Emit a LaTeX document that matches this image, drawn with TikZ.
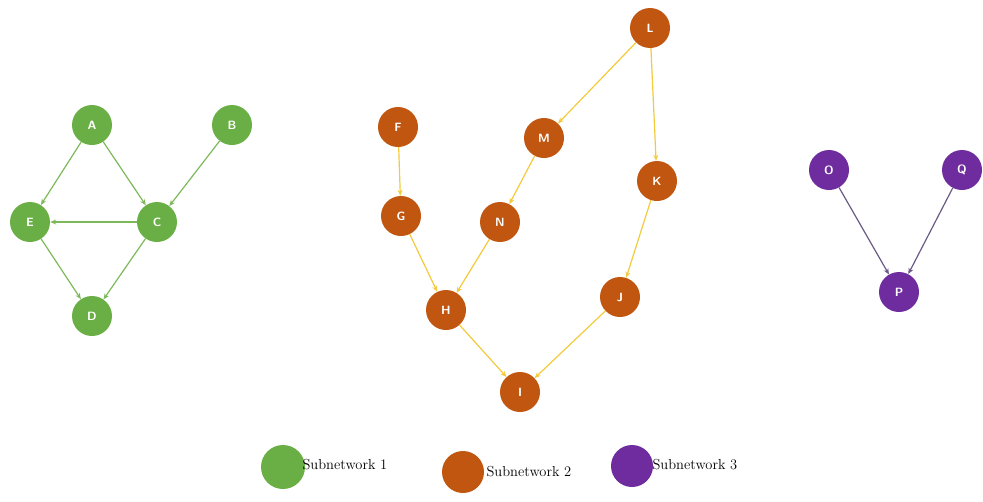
\documentclass[tikz,border=0pt]{standalone}
\usetikzlibrary{arrows.meta}
\definecolor{gnode}{HTML}{6AAF45}
\definecolor{gedge}{HTML}{7DB85A}
\definecolor{onode}{HTML}{C0560F}
\definecolor{oedge}{HTML}{F2CA3C}
\definecolor{pnode}{HTML}{6F2C9E}
\definecolor{pedge}{HTML}{6A5A84}
\begin{document}
\begin{tikzpicture}[x=1pt,y=-1pt,
  vtx/.style={circle,minimum size=40pt,inner sep=0pt,text=white,font=\sffamily\bfseries\fontsize{12}{14}\selectfont},
  gv/.style={vtx,fill=gnode},
  ov/.style={vtx,fill=onode},
  pv/.style={vtx,fill=pnode},
  ge/.style={draw=gedge,line width=1.2pt,-{Stealth[length=6pt,width=5pt]}},
  oe/.style={draw=oedge,line width=1.2pt,-{Stealth[length=6pt,width=5pt]}},
  pe/.style={draw=pedge,line width=1.2pt,-{Stealth[length=6pt,width=5pt]}},
  legtext/.style={anchor=west,font=\fontsize{14.5}{16}\selectfont}]
\useasboundingbox (0,0) rectangle (983,501);
% subnetwork 1
\node[gv] (A) at (92,125) {A};
\node[gv] (B) at (232,125) {B};
\node[gv] (C) at (157,222) {C};
\node[gv] (E) at (30,222) {E};
\node[gv] (D) at (92,316) {D};
\draw[ge] (A) -- (E);
\draw[ge] (A) -- (C);
\draw[ge] (B) -- (C);
\draw[ge] (C) -- (E);
\draw[ge] (E) -- (D);
\draw[ge] (C) -- (D);
% subnetwork 2
\node[ov] (F) at (398,127) {F};
\node[ov] (G) at (401,216) {G};
\node[ov] (N) at (500,222) {N};
\node[ov] (M) at (544,138) {M};
\node[ov] (L) at (650,28) {L};
\node[ov] (K) at (657,181) {K};
\node[ov] (J) at (620,297) {J};
\node[ov] (H) at (446,310) {H};
\node[ov] (I) at (520,392) {I};
\draw[oe] (F) -- (G);
\draw[oe] (G) -- (H);
\draw[oe] (N) -- (H);
\draw[oe] (M) -- (N);
\draw[oe] (L) -- (M);
\draw[oe] (L) -- (K);
\draw[oe] (K) -- (J);
\draw[oe] (J) -- (I);
\draw[oe] (H) -- (I);
% subnetwork 3
\node[pv] (O) at (829,170) {O};
\node[pv] (Q) at (962,170) {Q};
\node[pv] (P) at (899,292) {P};
\draw[pe] (O) -- (P);
\draw[pe] (Q) -- (P);
% legend
\node[circle,fill=gnode,minimum size=44pt,inner sep=0pt] (L1) at (283,467) {};
\node[legtext] (T1) at (299,465) {Subnetwork 1};
\node[circle,fill=onode,minimum size=42pt,inner sep=0pt] (L2) at (463,472) {};
\node[legtext] (T2) at (483,472) {Subnetwork 2};
\node[circle,fill=pnode,minimum size=42pt,inner sep=0pt] (L3) at (632,466) {};
\node[legtext] (T3) at (649,465) {Subnetwork 3};
\end{tikzpicture}
\end{document}
